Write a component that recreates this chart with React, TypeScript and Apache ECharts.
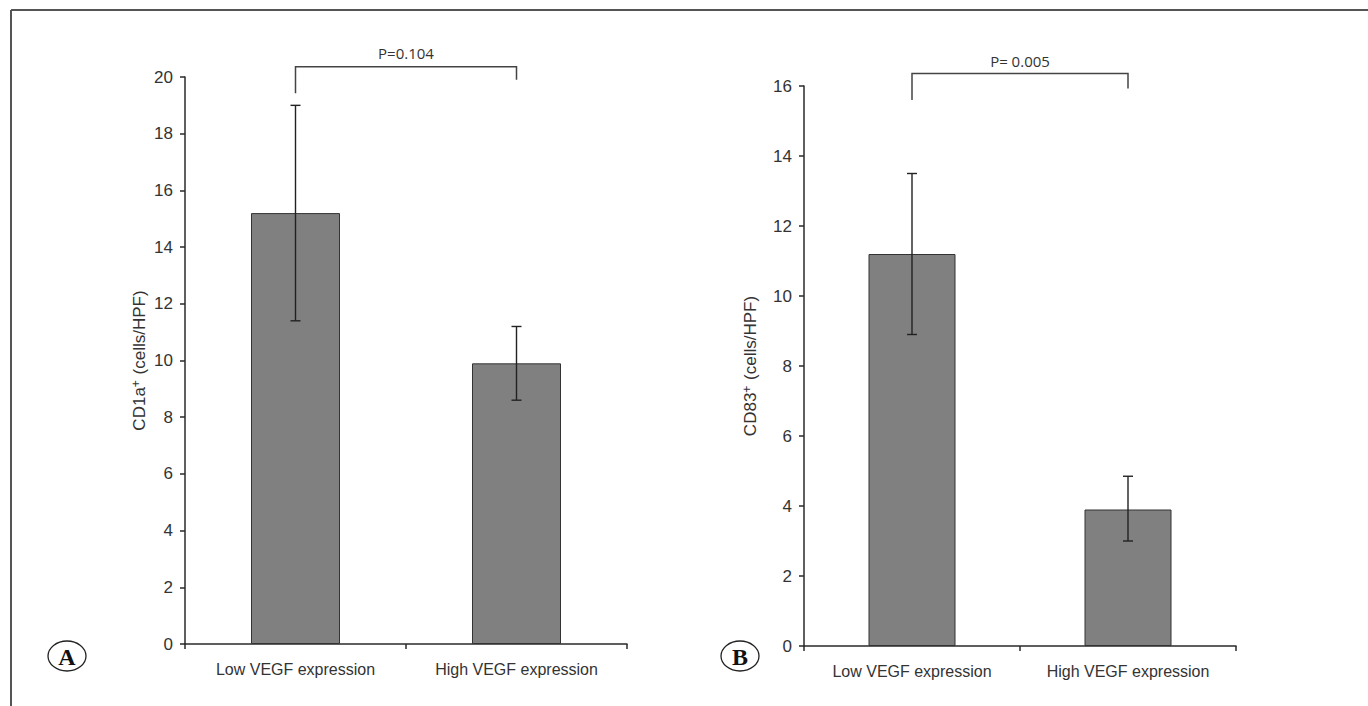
import React, { useEffect, useRef } from "react";
import * as echarts from "echarts";

const categories = ["Low VEGF expression", "High VEGF expression"];

// Panel A: CD1a+
const meanA = [15.2, 9.9];
const lowA = [11.4, 8.6];
const highA = [19.0, 11.2];
const bracketA = { from: 0, to: 1, top: 20.36, leftDrop: 19.43, rightDrop: 19.9, labelY: 20.85, label: "P=0.104" };
const yNameA = "CD1a{sup|+} (cells/HPF)";

// Panel B: CD83+
const meanB = [11.2, 3.9];
const lowB = [8.9, 3.0];
const highB = [13.5, 4.85];
const bracketB = { from: 0, to: 1, top: 16.36, leftDrop: 15.6, rightDrop: 15.93, labelY: 16.72, label: "P= 0.005" };
const yNameB = "CD83{sup|+} (cells/HPF)";

const FONT = "'Liberation Sans', Arial, sans-serif";
const AXIS_COLOR = "#2a2a2a";
const TEXT_COLOR = "#333";

function errorRender(params: any, api: any) {
  const x = api.value(0);
  const lo = api.coord([x, api.value(1)]);
  const hi = api.coord([x, api.value(2)]);
  const cap = 5;
  const st = { stroke: "#222", lineWidth: 1.4 };
  return {
    type: "group",
    children: [
      { type: "line", shape: { x1: lo[0], y1: lo[1], x2: hi[0], y2: hi[1] }, style: st },
      { type: "line", shape: { x1: lo[0] - cap, y1: lo[1], x2: lo[0] + cap, y2: lo[1] }, style: st },
      { type: "line", shape: { x1: hi[0] - cap, y1: hi[1], x2: hi[0] + cap, y2: hi[1] }, style: st },
    ],
  };
}

function bracketRender(label: string) {
  return (params: any, api: any) => {
    const from = api.value(0);
    const to = api.value(1);
    const top = api.value(2);
    const l = api.coord([from, top]);
    const r = api.coord([to, top]);
    const ld = api.coord([from, api.value(3)]);
    const rd = api.coord([to, api.value(4)]);
    const t = api.coord([from, api.value(5)]);
    const tr = api.coord([to, api.value(5)]);
    return {
      type: "group",
      children: [
        {
          type: "polyline",
          shape: { points: [[ld[0], ld[1]], [l[0], l[1]], [r[0], r[1]], [rd[0], rd[1]]] },
          style: { stroke: "#444", lineWidth: 1.5, fill: "none" },
        },
        {
          type: "text",
          x: (t[0] + tr[0]) / 2,
          y: t[1],
          style: {
            text: label,
            align: "center",
            verticalAlign: "middle",
            fill: TEXT_COLOR,
            fontSize: 15,
            fontFamily: "'Open Sans', sans-serif",
          },
        },
      ],
    };
  };
}

function xAxisFor(gridIndex: number) {
  return {
    type: "category",
    gridIndex,
    data: categories,
    axisLine: { lineStyle: { color: AXIS_COLOR, width: 1.5 } },
    axisTick: { show: true, length: 5, lineStyle: { color: AXIS_COLOR, width: 1.5 } },
    axisLabel: { fontSize: 16, color: TEXT_COLOR, margin: 17, fontFamily: FONT },
    splitLine: { show: false },
  };
}

function yAxisFor(gridIndex: number, max: number, name: string, nameGap: number) {
  return {
    type: "value",
    gridIndex,
    min: 0,
    max,
    interval: 2,
    name,
    nameLocation: "middle",
    nameGap,
    nameRotate: 90,
    nameTextStyle: {
      fontSize: 17,
      color: TEXT_COLOR,
      fontFamily: FONT,
      rich: {
        sup: { fontSize: 12, color: TEXT_COLOR, fontFamily: FONT, padding: [0, 1, 7, 0] },
      },
    },
    axisLine: { show: true, lineStyle: { color: AXIS_COLOR, width: 1.5 } },
    axisTick: { show: true, length: 5, lineStyle: { color: AXIS_COLOR, width: 1.5 } },
    axisLabel: { fontSize: 17, color: TEXT_COLOR, margin: 12, fontFamily: FONT },
    splitLine: { show: false },
  };
}

export default function App() {
  const ref = useRef<HTMLDivElement>(null);
  useEffect(() => {
    if (!ref.current) return;
    const chart = echarts.init(ref.current, undefined, { renderer: "svg" });
    const barStyle = { color: "#808080", borderColor: "#333", borderWidth: 1 };
    chart.setOption({
      animation: false,
      backgroundColor: "#fff",
      grid: [
        { left: 185, top: 77, right: 741, bottom: 62 },
        { left: 804, top: 86, right: 132, bottom: 60 },
      ],
      xAxis: [xAxisFor(0), xAxisFor(1)],
      yAxis: [yAxisFor(0, 20, yNameA, 36), yAxisFor(1, 16, yNameB, 44)],
      series: [
        { type: "bar", xAxisIndex: 0, yAxisIndex: 0, data: meanA, barWidth: 89, itemStyle: barStyle },
        {
          type: "custom",
          xAxisIndex: 0,
          yAxisIndex: 0,
          renderItem: errorRender,
          data: meanA.map((_, i) => [i, lowA[i], highA[i]]),
          z: 5,
        },
        {
          type: "custom",
          xAxisIndex: 0,
          yAxisIndex: 0,
          renderItem: bracketRender(bracketA.label),
          encode: { x: [0, 1], y: [2, 3, 4, 5] },
          data: [[bracketA.from, bracketA.to, bracketA.top, bracketA.leftDrop, bracketA.rightDrop, bracketA.labelY]],
          clip: false,
        },
        { type: "bar", xAxisIndex: 1, yAxisIndex: 1, data: meanB, barWidth: 87, itemStyle: barStyle },
        {
          type: "custom",
          xAxisIndex: 1,
          yAxisIndex: 1,
          renderItem: errorRender,
          data: meanB.map((_, i) => [i, lowB[i], highB[i]]),
          z: 5,
        },
        {
          type: "custom",
          xAxisIndex: 1,
          yAxisIndex: 1,
          renderItem: bracketRender(bracketB.label),
          encode: { x: [0, 1], y: [2, 3, 4, 5] },
          data: [[bracketB.from, bracketB.to, bracketB.top, bracketB.leftDrop, bracketB.rightDrop, bracketB.labelY]],
          clip: false,
        },
      ],
      graphic: [
        { type: "line", shape: { x1: 11, y1: 10, x2: 1368, y2: 10 }, style: { stroke: "#555", lineWidth: 2 } },
        { type: "line", shape: { x1: 11, y1: 10, x2: 11, y2: 706 }, style: { stroke: "#555", lineWidth: 2 } },
        { type: "ellipse", shape: { cx: 67, cy: 656, rx: 19, ry: 15 }, style: { stroke: "#222", lineWidth: 1.3, fill: "none" } },
        {
          type: "text",
          x: 67,
          y: 657,
          style: { text: "A", align: "center", verticalAlign: "middle", fill: "#111", fontSize: 24, fontWeight: "bold", fontFamily: "'Liberation Serif', 'DejaVu Serif', serif" },
        },
        { type: "ellipse", shape: { cx: 740, cy: 656, rx: 19, ry: 15 }, style: { stroke: "#222", lineWidth: 1.3, fill: "none" } },
        {
          type: "text",
          x: 740,
          y: 657,
          style: { text: "B", align: "center", verticalAlign: "middle", fill: "#111", fontSize: 24, fontWeight: "bold", fontFamily: "'Liberation Serif', 'DejaVu Serif', serif" },
        },
      ],
    });
    return () => chart.dispose();
  }, []);
  return (
    <div
      ref={ref}
      style={{ position: "fixed", left: 0, top: 0, width: 1368, height: 706, background: "#fff" }}
    />
  );
}
